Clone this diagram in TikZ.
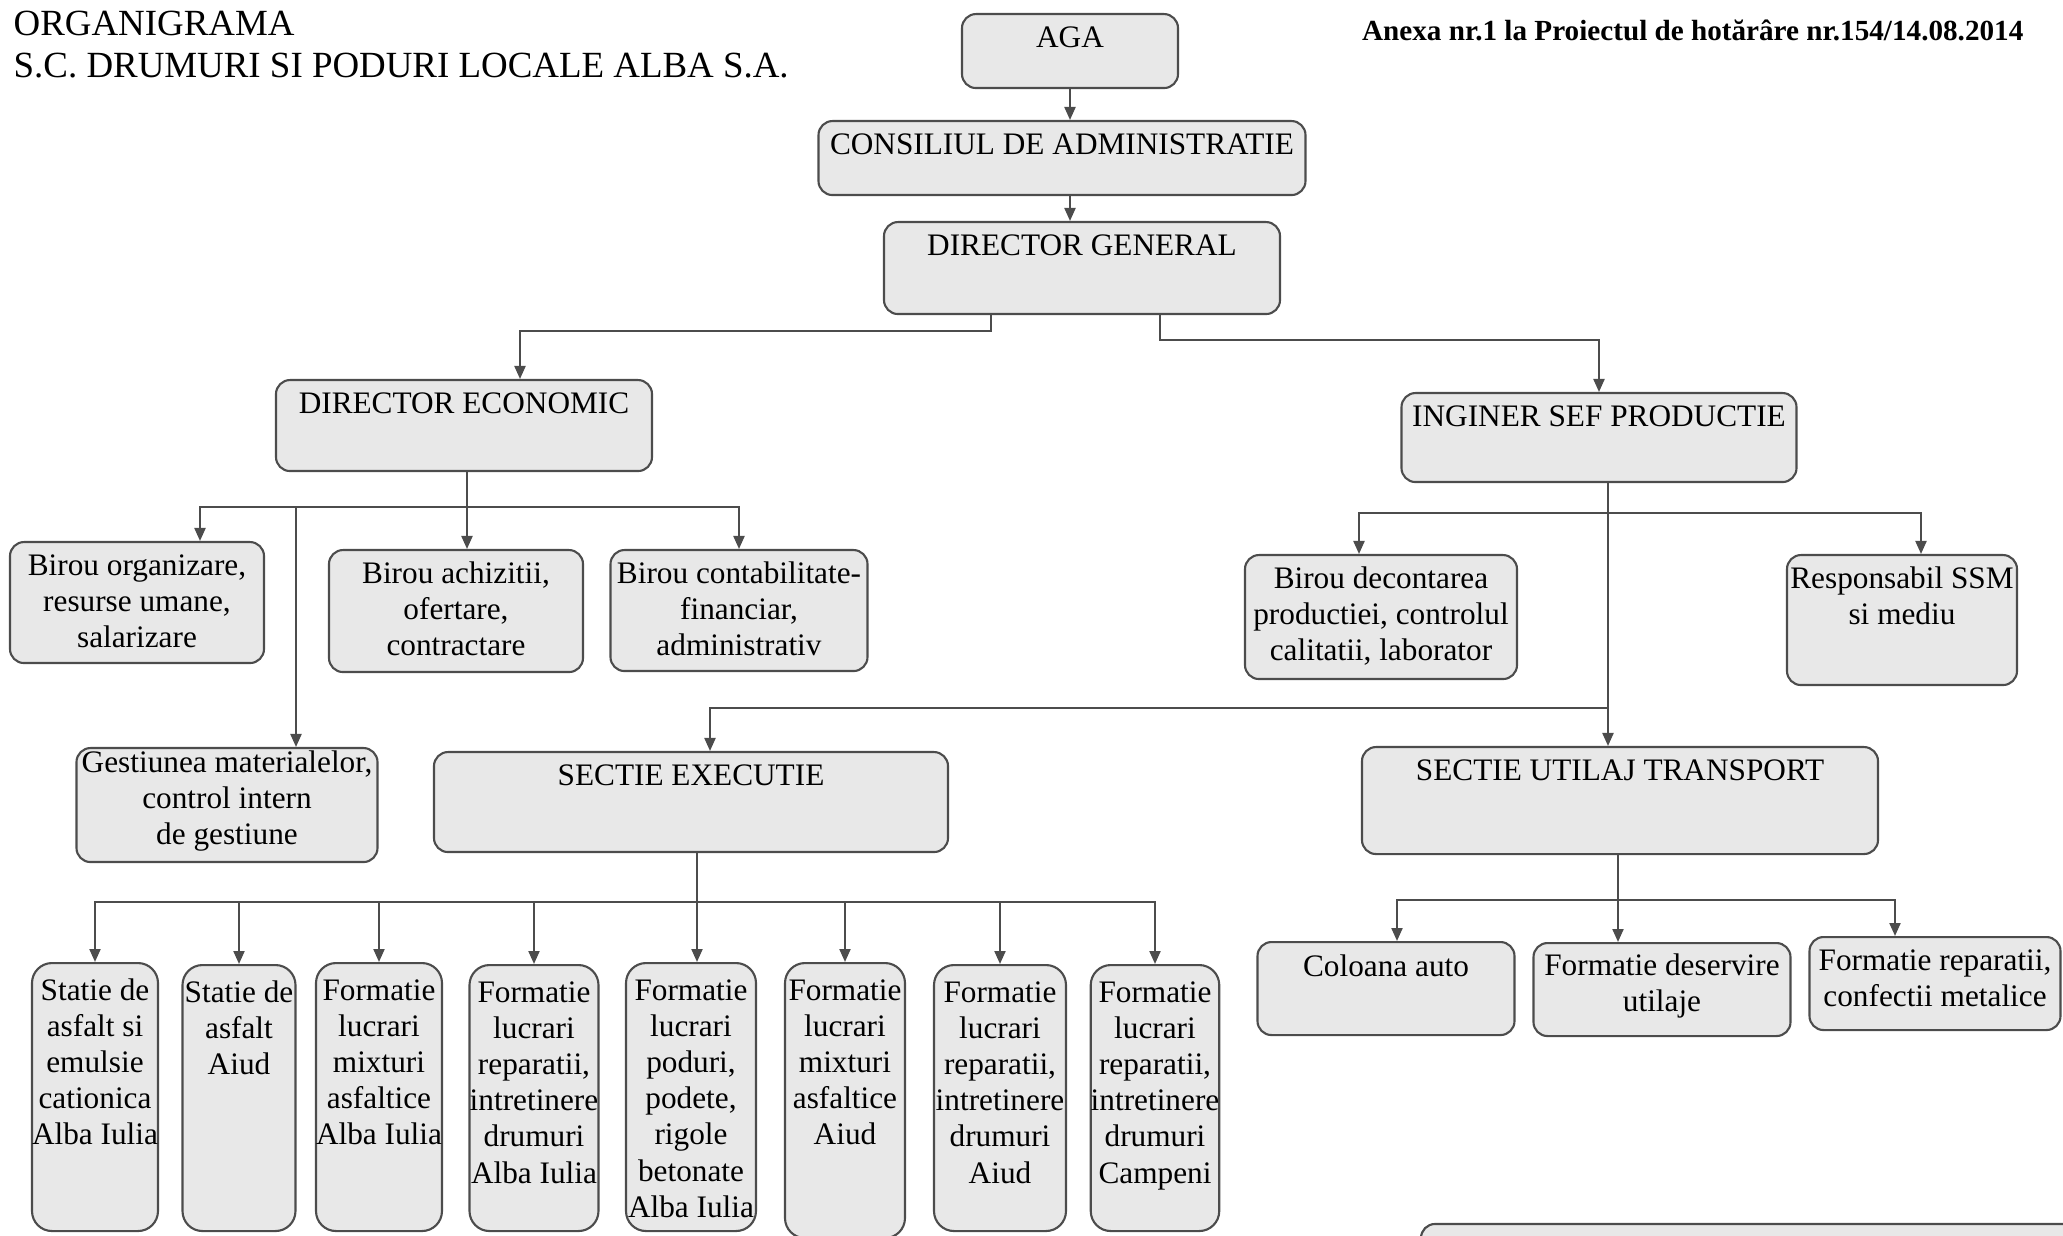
\documentclass[tikz,border=0pt]{standalone}
\usepackage{fontspec}
\setmainfont{Liberation Serif}
\usetikzlibrary{arrows.meta}
\newcommand\boxlines[1]{\begin{tabular}[t]{@{}c@{}}#1\end{tabular}}

\begin{document}
\begin{tikzpicture}[
  box/.style={draw=black!70, line width=0.6pt, fill=black!9, rounded corners=1.4mm,
    inner sep=0pt, anchor=north, text height=0.33cm,
    font=\fontsize{8.9}{10.3}\selectfont},
  col/.style={box, rounded corners=2mm, text height=0.37cm},
  arr/.style={draw=black!70, line width=0.6pt, -{Triangle[length=1.3mm,width=1.1mm]}}]
\useasboundingbox (0,0) rectangle (20.63,-12.36);
% titles
\node[anchor=base west, inner sep=0pt, font=\fontsize{10.5}{11.9}\selectfont] (T) at (0.13,-0.355) {\begin{tabular}[t]{@{}l@{}}ORGANIGRAMA\\S.C. DRUMURI SI PODURI LOCALE ALBA S.A.\end{tabular}};
\node[anchor=base east, inner sep=0pt, font=\bfseries\fontsize{8.3}{10}\selectfont] (AX) at (20.24,-0.41) {Anexa nr.1 la Proiectul de hotărâre nr.154/14.08.2014};
% top levels
\node[box, minimum width=2.16cm, text depth=0.41cm] (AGA) at (10.70,-0.13) {AGA};
\node[box, minimum width=4.87cm, text depth=0.41cm] (CA) at (10.62,-1.20) {CONSILIUL DE ADMINISTRATIE};
\node[box, minimum width=3.96cm, text depth=0.59cm] (DG) at (10.82,-2.21) {DIRECTOR GENERAL};
\node[box, minimum width=3.76cm, text depth=0.58cm] (DE) at (4.64,-3.79) {DIRECTOR ECONOMIC};
\node[box, minimum width=3.95cm, text depth=0.56cm] (ISP) at (15.99,-3.92) {INGINER SEF PRODUCTIE};
% economic
\node[box, minimum width=2.54cm, text depth=0.88cm] (BOrg) at (1.37,-5.41) {\boxlines{Birou organizare,\\resurse umane,\\salarizare}};
\node[box, minimum width=2.54cm, text depth=0.89cm] (BAch) at (4.56,-5.49) {\boxlines{Birou achizitii,\\ofertare,\\contractare}};
\node[box, minimum width=2.57cm, text depth=0.88cm] (BCont) at (7.39,-5.49) {\boxlines{Birou contabilitate-\\financiar,\\administrativ}};
\node[box, minimum width=3.01cm, text height=0.24cm, text depth=0.90cm] (Gest) at (2.27,-7.47) {\boxlines{Gestiunea materialelor,\\control intern\\de gestiune}};
% productie
\node[box, minimum width=2.72cm, text depth=0.91cm] (BDec) at (13.81,-5.54) {\boxlines{Birou decontarea\\productiei, controlul\\calitatii, laborator}};
\node[box, minimum width=2.30cm, text depth=0.97cm] (RSSM) at (19.02,-5.54) {\boxlines{Responsabil SSM\\si mediu}};
\node[box, minimum width=5.14cm, text depth=0.67cm] (SE) at (6.91,-7.51) {SECTIE EXECUTIE};
\node[box, minimum width=5.16cm, text depth=0.74cm] (SUT) at (16.20,-7.46) {SECTIE UTILAJ TRANSPORT};
% formatii executie
\node[col, minimum width=1.26cm, text depth=2.31cm] (F1) at (0.95,-9.62) {\boxlines{Statie de\\asfalt si\\emulsie\\cationica\\Alba Iulia}};
\node[col, minimum width=1.13cm, text depth=2.29cm] (F2) at (2.39,-9.64) {\boxlines{Statie de\\asfalt\\Aiud}};
\node[col, minimum width=1.26cm, text depth=2.31cm] (F3) at (3.79,-9.62) {\boxlines{Formatie\\lucrari\\mixturi\\asfaltice\\Alba Iulia}};
\node[col, minimum width=1.29cm, text depth=2.29cm] (F4) at (5.34,-9.64) {\boxlines{Formatie\\lucrari\\reparatii,\\intretinere\\drumuri\\Alba Iulia}};
\node[col, minimum width=1.30cm, text depth=2.31cm] (F5) at (6.91,-9.62) {\boxlines{Formatie\\lucrari\\poduri,\\podete,\\rigole\\betonate\\Alba Iulia}};
\node[col, minimum width=1.20cm, text depth=2.38cm] (F6) at (8.45,-9.62) {\boxlines{Formatie\\lucrari\\mixturi\\asfaltice\\Aiud}};
\node[col, minimum width=1.32cm, text depth=2.29cm] (F7) at (10.00,-9.64) {\boxlines{Formatie\\lucrari\\reparatii,\\intretinere\\drumuri\\Aiud}};
\node[col, minimum width=1.28cm, text depth=2.29cm] (F8) at (11.55,-9.64) {\boxlines{Formatie\\lucrari\\reparatii,\\intretinere\\drumuri\\Campeni}};
% formatii utilaj
\node[box, minimum width=2.57cm, text height=0.34cm, text depth=0.59cm] (Col) at (13.86,-9.41) {Coloana auto};
\node[box, minimum width=2.57cm, text height=0.32cm, text depth=0.61cm] (FDes) at (16.62,-9.42) {\boxlines{Formatie deservire\\utilaje}};
\node[box, minimum width=2.51cm, text depth=0.60cm] (FRep) at (19.35,-9.36) {\boxlines{Formatie reparatii,\\confectii metalice}};
\draw[draw=black!70, line width=0.6pt, fill=black!9, rounded corners=1.4mm] (14.21,-12.24) rectangle (21.5,-13.5);
% connectors
\draw[arr] (AGA.south) -- (AGA.south |- CA.north);
\draw[arr] (AGA.south |- CA.south) -- (AGA.south |- DG.north);
\draw[arr] ([xshift=-0.91cm]DG.south) -- ++(0,-0.16) -| ([xshift=0.56cm]DE.north);
\draw[arr] ([xshift=0.78cm]DG.south) -- ++(0,-0.25) -| (ISP.north);
\coordinate (ES) at ([xshift=0.03cm]DE.south);
\coordinate (EB) at ([yshift=-0.35cm]ES);
\coordinate (GT) at ([xshift=0.69cm]Gest.north);
\draw[arr] (ES) -- (ES |- BAch.north);
\draw[arr] (EB) -| ([xshift=0.63cm]BOrg.north);
\draw[arr] (EB) -| (BCont.north);
\draw[arr] (EB -| GT) -- (GT);
\coordinate (PS) at ([xshift=0.09cm]ISP.south);
\coordinate (PB) at ([yshift=-0.30cm]PS);
\coordinate (PJ) at ([yshift=-2.25cm]PS);
\draw[arr] (PS) -- (PS |- SUT.north);
\draw[arr] (PB) -| ([xshift=-0.22cm]BDec.north);
\draw[arr] (PB) -| ([xshift=0.19cm]RSSM.north);
\draw[arr] (PJ) -| ([xshift=0.19cm]SE.north);
\coordinate (XS) at ([xshift=0.06cm]SE.south);
\coordinate (XB) at ([yshift=-0.49cm]XS);
\draw[arr] (XS) -- (XS |- F5.north);
\foreach \f in {F1,F2,F3,F4,F6,F7,F8}
  \draw[arr] (XB) -| (\f.north);
\coordinate (US) at ([xshift=-0.02cm]SUT.south);
\coordinate (UB) at ([yshift=-0.45cm]US);
\draw[arr] (US) -- (US |- FDes.north);
\draw[arr] (UB) -| ([xshift=0.11cm]Col.north);
\draw[arr] (UB) -| ([xshift=-0.40cm]FRep.north);
\end{tikzpicture}
\end{document}
